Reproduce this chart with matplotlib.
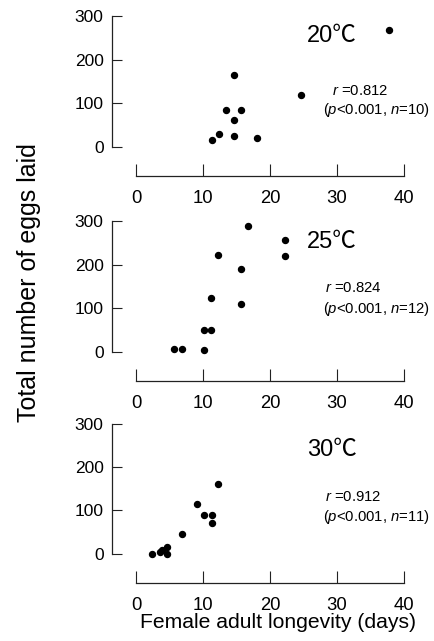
import matplotlib
matplotlib.use("Agg")
import matplotlib.pyplot as plt

plt.rcParams['font.family'] = ['Liberation Sans', 'Noto Sans CJK JP', 'DejaVu Sans']
plt.rcParams['mathtext.fontset'] = 'custom'
plt.rcParams['mathtext.it'] = 'Liberation Sans:italic'
plt.rcParams['mathtext.rm'] = 'Liberation Sans'

# 20 C
days_20 = [11.4, 12.4, 13.5, 14.7, 14.7, 14.7, 15.7, 18.0, 24.6, 37.8]
eggs_20 = [17, 30, 84, 166, 62, 25, 84, 20, 120, 268]

# 25 C
days_25 = [5.6, 6.8, 10.1, 10.1, 11.2, 11.2, 12.3, 16.7, 15.6, 15.6, 22.2, 22.2]
eggs_25 = [8, 8, 5, 51, 51, 123, 223, 289, 191, 110, 256, 220]

# 30 C
days_30 = [2.4, 3.6, 3.9, 4.7, 4.7, 6.8, 9.1, 10.1, 11.3, 11.3, 12.3]
eggs_30 = [0, 5, 8, 15, 0, 46, 115, 89, 90, 71, 161]

temps = ['20℃', '25℃', '30℃']
r_vals = ['0.812', '0.824', '0.912']
n_vals = [10, 12, 11]

xticks = [0, 10, 20, 30, 40]
yticks = [0, 100, 200, 300]

fig = plt.figure(figsize=(4.35, 6.41), dpi=100)

# pixel layout (top, bottom) of each panel's data area
panels = [(16, 147), (221, 352), (424, 553.7)]
temp_y = [254, 252, 241]
r_y = [(129, 85), (146, 98), (132, 86)]
r_x = [29.2, 28.2, 28.2]
data = [(days_20, eggs_20), (days_25, eggs_25), (days_30, eggs_30)]

W, H = 435, 641
for i, (top, bot) in enumerate(panels):
    ax = fig.add_axes([136 / W, 1 - bot / H, 268 / W, (bot - top) / H])
    x, y = data[i]
    ax.plot(x, y, 'o', color='black', ms=4.3, clip_on=False)
    ax.set_xlim(0, 40)
    ax.set_ylim(0, 300)
    ax.set_xticks(xticks)
    ax.set_yticks(yticks)
    ax.spines['top'].set_visible(False)
    ax.spines['right'].set_visible(False)
    ax.spines['left'].set_position(('outward', 17.3))
    ax.spines['bottom'].set_position(('outward', 21))
    ax.spines['left'].set_bounds(0, 300)
    ax.spines['bottom'].set_bounds(0, 40)
    for s in ['left', 'bottom']:
        ax.spines[s].set_linewidth(0.9)
        ax.spines[s].set_color('#222222')
    ax.tick_params(axis='y', direction='in', length=7.5, width=0.8, pad=6,
                   labelsize=12.5, color='#222222')
    ax.tick_params(axis='x', direction='in', length=9, width=0.8, pad=10,
                   labelsize=13.3, color='#222222')
    ax.patch.set_visible(False)

    ax.text(25.5, temp_y[i], temps[i], fontsize=17, ha='left', va='center')
    ax.text(r_x[i], r_y[i][0], r'$\mathit{r}$ =' + r_vals[i],
            fontsize=10.7, ha='left', va='center')
    ax.text(27.9, r_y[i][1],
            r'($\mathit{p}$<0.001, $\mathit{n}$=%d)' % n_vals[i],
            fontsize=10.7, ha='left', va='center')

fig.text(29 / W, 1 - 283 / H, 'Total number of eggs laid', rotation=90,
         ha='center', va='center', fontsize=18)
fig.text(278 / W, 1 - 622 / H, 'Female adult longevity (days)',
         ha='center', va='center', fontsize=15.2)

fig.savefig('out.png', dpi=100)
